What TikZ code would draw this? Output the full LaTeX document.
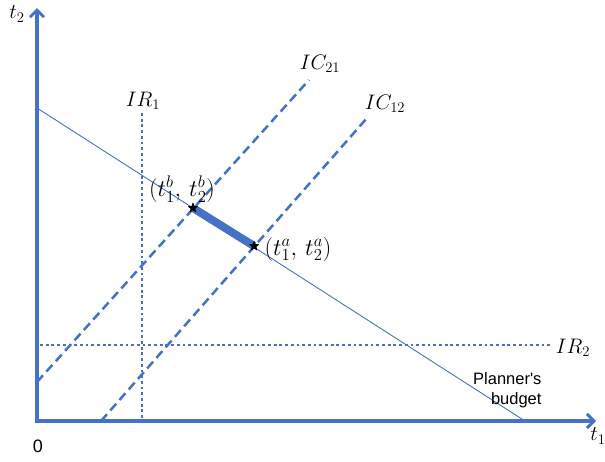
\RequirePackage{fix-cm}
\documentclass[tikz,border=0pt]{standalone}
\usepackage{fontspec}
\newfontfamily\arialfont{Liberation Sans}
\usetikzlibrary{arrows.meta,shapes.geometric}
\definecolor{offblue}{HTML}{4472C4}
\tikzset{
  axis/.style={draw=offblue, line width=3.5pt, -{Straight Barb[length=7pt,width=14pt,line width=3pt]}},
  icline/.style={draw=offblue, line width=2.5pt, dash pattern=on 9pt off 5pt},
  irline/.style={draw=offblue, line width=2.7pt, dash pattern=on 2.8pt off 2.9pt},
  budget/.style={draw=offblue, line width=0.9pt},
  mlabel/.style={font=\fontsize{21}{25}\selectfont, inner sep=1pt},
  plabel/.style={font=\fontsize{24}{28}\selectfont, inner sep=0pt},
  pt/.style={star, star points=5, star point ratio=2.4, fill=black, draw=none, minimum size=11pt, inner sep=0pt}
}
\begin{document}
\begin{tikzpicture}[x=1pt,y=-1pt]
\useasboundingbox (0,0) rectangle (605,461);
% coordinates
\coordinate (O) at (37,421);
\coordinate (ytip) at (37,8);
\coordinate (xtip) at (596,421);
\coordinate (B0) at (37,108);
\coordinate (B1) at (525,421);
\coordinate (IC21a) at (37,382);
\coordinate (IC21b) at (309,80);
\coordinate (IC12a) at (101,421);
\coordinate (IC12b) at (367,118);
\coordinate (IR1a) at (142,113);
\coordinate (IR1b) at (142,421);
\coordinate (IR2a) at (40,345);
\coordinate (IR2b) at (550,345);
% lines
\draw[budget] (B0) -- (B1);
\draw[icline] (IC21a) -- (IC21b);
\draw[icline] (IC12a) -- (IC12b);
\draw[irline] (IR1a) -- (IR1b);
\draw[irline] (IR2a) -- (IR2b);
\node[pt] (pb) at (193,208) {};
\node[pt] (pa) at (254,246) {};
\draw[draw=offblue, line width=8pt] (pb.center) -- (pa.center);
\node[pt] at (pb.center) {};
\node[pt] at (pa.center) {};
% axes
\draw[axis] (O) -- (ytip);
\draw[axis] ([xshift=-1.75pt]O) -- (xtip);
% labels
\node[mlabel] (lt2) at (17,14) {$t_2$};
\node[mlabel] (lt1) at (598,436) {$t_1$};
\node[font=\arialfont\fontsize{18}{20}\selectfont] (l0) at (38,446) {0};
\node[mlabel] (lir1) at (143,101) {$IR_1$};
\node[mlabel] (lic21) at (320,64) {$IC_{21}$};
\node[mlabel] (lic12) at (385,104) {$IC_{12}$};
\node[mlabel] (lir2) at (573,348) {$IR_2$};
\node[plabel] (lb) at (182,189) {$(t_1^b,\,t_2^b)$};
\node[plabel] (la) at (298,249) {$(t_1^a,\,t_2^a)$};
\node[font=\arialfont\fontsize{16.5}{20}\selectfont, align=right, anchor=east] (lpb) at (545,390) {Planner's\\budget};
\end{tikzpicture}
\end{document}
